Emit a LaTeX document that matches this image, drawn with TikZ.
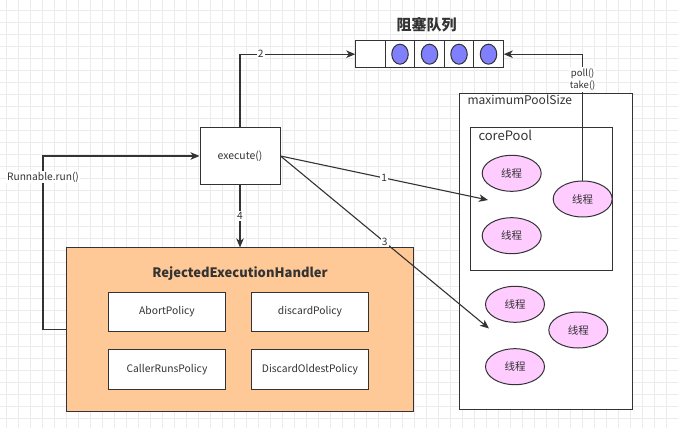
\documentclass[tikz,border=0pt]{standalone}
\usepackage{fontspec}
\setmainfont{Noto Sans CJK SC}
\usepackage{tikz}
\usetikzlibrary{arrows.meta}
\usetikzlibrary{shapes.geometric}
\definecolor{ink}{HTML}{333333}
\definecolor{gridgray}{HTML}{EBEBEB}
\definecolor{handlerfill}{HTML}{FFC997}
\definecolor{threadfill}{HTML}{FFCCFF}
\definecolor{taskfill}{HTML}{8080FF}
\tikzset{
  gridline/.style={draw=gridgray, line width=0.6pt},
  box/.style={draw=ink, line width=1pt, fill=white, inner sep=0pt},
  cell/.style={box, minimum width=29.5pt, minimum height=27pt},
  task/.style={ellipse, draw=ink, line width=1pt, fill=taskfill, minimum width=16.5pt, minimum height=20pt, inner sep=0pt},
  thread/.style={ellipse, draw=ink, line width=1pt, fill=threadfill, minimum width=59pt, minimum height=36pt, inner sep=0pt, text=ink, font=\fontsize{10.5}{12}\selectfont},
  policy/.style={box, minimum width=116.6pt, minimum height=39.5pt, text=ink, font=\fontsize{10.3}{12}\selectfont},
  lbl/.style={fill=white, inner sep=1pt, text=ink, font=\fontsize{10.2}{12}\selectfont},
  flow/.style={draw=ink, line width=1.1pt, -{Stealth[length=9pt,width=7.5pt,inset=2.5pt]}},
}

\begin{document}
\begin{tikzpicture}[x=1pt, y=-1pt]
    \useasboundingbox (0,0) rectangle (678,428);
    % background grid
    \foreach \x in {6,18,...,678} \draw[gridline] (\x,0) -- (\x,428);
    \foreach \y in {10,22,...,428} \draw[gridline] (0,\y) -- (678,\y);

    % blocking queue
    \node[text=ink, font=\fontsize{15}{17}\selectfont\bfseries] (qtitle) at (426.5,25) {阻塞队列};
    \foreach \i in {1,...,5} \node[cell] (q\i) at (341+29.5*\i,54.2) {};
    \foreach \i in {2,...,5} \node[task] (task\i) at (q\i) {};

    % pools
    \node[box, minimum width=173pt, minimum height=316pt] (maxpool) at (546.3,251.3) {};
    \node[anchor=north west, text=ink, font=\fontsize{12}{14}\selectfont] (maxlbl) at (464,91.5) {maximumPoolSize};
    \node[box, minimum width=141.6pt, minimum height=142.7pt] (corepool) at (541.5,198.7) {};
    \node[anchor=north west, text=ink, font=\fontsize{13}{15}\selectfont] (corelbl) at (475,126.5) {corePool};
    \node[thread] (core1) at (511.7,173.3) {线程};
    \node[thread] (core2) at (582.7,199) {线程};
    \node[thread] (core3) at (511.7,235.7) {线程};
    \node[thread] (extra1) at (515,304.3) {线程};
    \node[thread] (extra2) at (578.3,330) {线程};
    \node[thread] (extra3) at (515,366.7) {线程};
    \coordinate (in1) at (488,200);
    \coordinate (in3) at (489,328.5);

    % execute and handler
    \node[box, minimum width=80pt, minimum height=56.3pt, text=ink, font=\fontsize{10.4}{12}\selectfont] (execute) at (240,156) {execute()};
    \node[draw=ink, line width=1pt, fill=handlerfill, inner sep=0pt, minimum width=346.6pt, minimum height=163.7pt] (handler) at (240,329.8) {};
    \node[text=ink, font=\fontsize{13}{15}\selectfont\bfseries] (hlbl) at (240,273.3) {RejectedExecutionHandler};
    \node[policy] (abort) at (167,311.8) {AbortPolicy};
    \node[policy] (discard) at (310,311.8) {discardPolicy};
    \node[policy] (caller) at (167,369.7) {CallerRunsPolicy};
    \node[policy] (oldest) at (310,369.7) {DiscardOldestPolicy};
    \coordinate (loop) at (43,156);

    % connectors
    \draw[flow] (execute.north) |- node[lbl, pos=0.59] {2} (q1.west);
    \draw[flow] (core2.north) |- node[lbl, pos=0.4, align=center, font=\fontsize{9.5}{12.5}\selectfont] {poll()\\take()} (q5.east);
    \draw[flow] (execute.east) -- node[lbl, pos=0.5] {1} (in1);
    \draw[flow] (execute.east) -- node[lbl, pos=0.5] {3} (in3);
    \draw[flow] (execute.south) -- node[lbl, pos=0.5] {4} (handler.north);
    \draw[flow] (handler.west) -| (loop) -- (execute.west);
    \node[lbl] (runlbl) at (43,177) {Runnable.run()};
\end{tikzpicture}
\end{document}
